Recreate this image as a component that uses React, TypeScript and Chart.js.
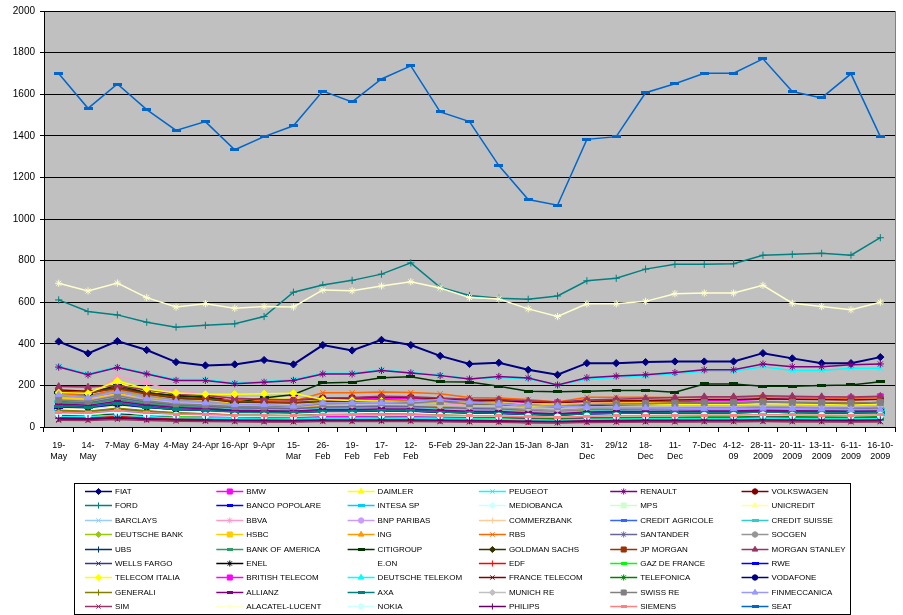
import React, { useEffect, useRef } from 'react';
import { Chart, registerables } from 'chart.js';
import { drawPoint } from 'chart.js/helpers';

Chart.register(...registerables);

const CATEGORIES = [
  '19-\nMay', '14-\nMay', '7-May', '6-May', '4-May', '24-Apr', '16-Apr', '9-Apr', '15-\nMar', '26-\nFeb',
  '19-\nFeb', '17-\nFeb', '12-\nFeb', '5-Feb', '29-Jan', '22-Jan', '15-Jan', '8-Jan', '31-\nDec', '29/12',
  '18-\nDec', '11-\nDec', '7-Dec', '4-12-\n09', '28-11-\n2009', '20-11-\n2009', '13-11-\n2009', '6-11-\n2009', '16-10-\n2009',
];

const Y_TICKS = [0, 200, 400, 600, 800, 1000, 1200, 1400, 1600, 1800, 2000];

const FIAT = [411, 354, 413, 370, 312, 296, 301, 322, 301, 394, 368, 419, 394, 342, 303, 309, 275, 251, 307, 307, 312, 315, 315, 315, 355, 330, 307, 307, 336];
const BMW = [150, 140, 165, 142, 128, 137, 137, 120, 135, 135, 135, 138, 138, 128, 121, 127, 116, 116, 121, 121, 121, 121, 126, 126, 135, 133, 133, 139, 145];
const DAIMLER = [175, 168, 212, 172, 150, 146, 140, 138, 142, 122, 118, 116, 113, 108, 106, 104, 96, 92, 101, 102, 104, 105, 106, 106, 110, 108, 106, 104, 108];
const PEUGEOT = [292, 256, 290, 258, 228, 228, 212, 219, 228, 258, 258, 275, 262, 250, 232, 238, 232, 202, 230, 238, 246, 255, 268, 268, 290, 272, 272, 283, 283];
const RENAULT = [288, 251, 286, 255, 224, 224, 208, 215, 224, 255, 255, 272, 260, 247, 231, 243, 236, 202, 237, 245, 251, 262, 275, 275, 303, 290, 290, 299, 303];
const VOLKSWAGEN = [178, 172, 188, 165, 150, 142, 132, 130, 128, 138, 140, 144, 142, 136, 130, 128, 120, 115, 124, 126, 128, 130, 132, 132, 136, 134, 132, 130, 134];
const FORD = [611, 555, 539, 504, 480, 489, 496, 531, 648, 683, 705, 735, 789, 672, 632, 619, 614, 630, 703, 715, 759, 782, 782, 785, 826, 830, 835, 826, 910];
const BANCO_POPOLARE = [88, 82, 95, 78, 66, 60, 52, 50, 48, 52, 54, 55, 54, 50, 46, 44, 40, 36, 42, 44, 45, 46, 46, 46, 48, 47, 46, 45, 46];
const INTESA_SP = [82, 78, 92, 80, 70, 66, 60, 58, 56, 62, 62, 64, 63, 60, 56, 55, 50, 46, 52, 54, 55, 56, 57, 57, 60, 58, 57, 56, 58];
const MEDIOBANCA = [96, 92, 110, 95, 84, 80, 74, 72, 70, 76, 77, 80, 78, 74, 70, 68, 62, 58, 64, 66, 66, 67, 68, 68, 72, 70, 68, 66, 70];
const MPS = [74, 70, 84, 72, 62, 58, 52, 50, 48, 54, 55, 56, 55, 52, 48, 46, 42, 38, 44, 45, 46, 47, 48, 48, 50, 49, 48, 47, 48];
const UNICREDIT = [92, 88, 104, 88, 76, 72, 64, 62, 60, 66, 67, 70, 68, 64, 60, 58, 52, 48, 54, 56, 57, 58, 59, 59, 62, 60, 58, 57, 60];
const BARCLAYS = [128, 120, 150, 128, 106, 98, 84, 82, 80, 88, 90, 94, 92, 86, 78, 74, 66, 60, 70, 72, 74, 76, 78, 78, 82, 80, 78, 76, 80];
const BBVA = [150, 140, 245, 212, 172, 158, 130, 128, 125, 118, 115, 118, 115, 110, 105, 100, 92, 88, 98, 100, 100, 98, 100, 100, 105, 100, 98, 96, 100];
const BNP_PARIBAS = [138, 132, 158, 136, 120, 114, 104, 102, 100, 108, 110, 114, 112, 106, 100, 98, 90, 86, 94, 96, 98, 100, 101, 101, 105, 103, 101, 99, 102];
const COMMERZBANK = [86, 80, 96, 82, 70, 64, 56, 54, 52, 56, 56, 58, 57, 53, 48, 46, 42, 38, 44, 46, 47, 48, 49, 49, 52, 50, 49, 48, 50];
const CREDIT_AGRICOLE = [104, 98, 118, 100, 88, 84, 76, 74, 72, 78, 79, 82, 80, 76, 72, 70, 64, 60, 66, 68, 69, 70, 71, 71, 74, 72, 71, 70, 72];
const CREDIT_SUISSE = [122, 116, 138, 118, 104, 98, 90, 88, 86, 92, 93, 96, 95, 90, 86, 84, 78, 74, 80, 82, 83, 84, 85, 85, 88, 86, 85, 84, 86];
const DEUTSCHE_BANK = [148, 140, 170, 146, 126, 118, 104, 100, 98, 106, 107, 110, 108, 100, 92, 88, 80, 74, 84, 86, 87, 88, 90, 90, 94, 92, 90, 88, 92];
const HSBC = [140, 136, 160, 140, 128, 124, 118, 116, 115, 120, 120, 122, 121, 118, 116, 115, 112, 110, 114, 115, 116, 116, 117, 117, 120, 118, 117, 116, 118];
const ING = [130, 124, 152, 128, 112, 106, 96, 94, 92, 100, 101, 104, 102, 96, 90, 88, 82, 78, 86, 88, 89, 90, 91, 91, 95, 93, 91, 90, 93];
const RBS = [160, 150, 180, 155, 140, 135, 128, 126, 124, 165, 165, 168, 166, 160, 142, 140, 132, 120, 143, 143, 143, 142, 142, 142, 145, 142, 140, 138, 140];
const SANTANDER = [122, 116, 140, 120, 106, 100, 92, 90, 88, 96, 97, 100, 98, 94, 90, 88, 82, 78, 85, 87, 88, 89, 90, 90, 94, 92, 90, 88, 92];
const SOCGEN = [152, 144, 176, 150, 130, 122, 108, 104, 100, 110, 111, 114, 112, 104, 96, 92, 84, 78, 88, 90, 91, 92, 94, 94, 98, 96, 94, 92, 96];
const UBS = [72, 68, 84, 70, 60, 56, 50, 48, 46, 50, 51, 53, 52, 49, 46, 44, 40, 37, 42, 43, 44, 45, 46, 46, 48, 47, 46, 45, 46];
const BANK_OF_AMERICA = [118, 112, 132, 112, 98, 92, 80, 78, 76, 82, 82, 84, 82, 76, 70, 66, 60, 56, 64, 66, 67, 68, 70, 70, 74, 72, 70, 68, 72];
const CITIGROUP = [165, 160, 200, 165, 150, 145, 117, 140, 156, 212, 215, 237, 242, 218, 216, 196, 172, 169, 172, 175, 175, 167, 207, 207, 196, 196, 199, 202, 218];
const GOLDMAN_SACHS = [170, 162, 190, 160, 140, 134, 120, 118, 115, 122, 124, 128, 126, 120, 112, 108, 100, 96, 104, 106, 108, 110, 112, 112, 116, 114, 112, 110, 114];
const JP_MORGAN = [172, 165, 185, 160, 142, 136, 124, 120, 118, 126, 127, 130, 128, 122, 116, 112, 104, 100, 108, 110, 112, 114, 116, 116, 120, 118, 116, 114, 118];
const MORGAN_STANLEY = [195, 192, 200, 178, 160, 152, 138, 134, 130, 140, 142, 148, 146, 140, 134, 132, 126, 120, 130, 134, 138, 142, 146, 146, 150, 148, 146, 144, 148];
const WELLS_FARGO = [76, 72, 82, 74, 68, 66, 64, 62, 60, 66, 67, 70, 70, 68, 66, 66, 64, 62, 66, 68, 70, 72, 74, 74, 78, 76, 76, 76, 78];
const ENEL = [56, 54, 62, 54, 48, 46, 42, 41, 40, 43, 43, 44, 44, 42, 40, 39, 36, 34, 38, 39, 40, 40, 41, 41, 43, 42, 41, 40, 42];
const EON = [86, 82, 96, 84, 74, 70, 64, 62, 60, 66, 67, 70, 68, 64, 60, 58, 54, 50, 56, 58, 59, 60, 61, 61, 64, 62, 61, 60, 62];
const EDF = [46, 44, 52, 45, 40, 38, 34, 33, 32, 35, 35, 36, 36, 34, 31, 30, 27, 25, 29, 30, 31, 31, 32, 32, 34, 33, 32, 31, 32];
const GAZ_DE_FRANCE = [62, 58, 70, 60, 52, 48, 44, 43, 42, 46, 46, 48, 47, 44, 41, 40, 36, 33, 38, 39, 40, 41, 42, 42, 44, 43, 42, 41, 42];
const RWE = [96, 92, 108, 94, 84, 80, 74, 72, 70, 76, 76, 78, 77, 72, 68, 66, 60, 56, 64, 66, 67, 68, 69, 69, 72, 70, 69, 68, 70];
const TELECOM_ITALIA = [165, 162, 222, 183, 164, 158, 158, 160, 162, 132, 128, 125, 122, 118, 115, 112, 100, 98, 110, 110, 110, 108, 108, 108, 112, 110, 108, 105, 110];
const BRITISH_TELECOM = [64, 62, 72, 62, 56, 54, 50, 49, 48, 52, 52, 54, 53, 50, 48, 47, 44, 42, 46, 47, 48, 48, 49, 49, 51, 50, 49, 48, 50];
const DEUTSCHE_TELEKOM = [52, 50, 58, 50, 45, 43, 40, 39, 38, 41, 41, 42, 42, 40, 38, 37, 34, 32, 36, 37, 38, 38, 39, 39, 41, 40, 39, 38, 40];
const FRANCE_TELECOM = [36, 35, 42, 36, 32, 30, 28, 27, 26, 29, 29, 30, 30, 28, 26, 25, 22, 21, 24, 25, 26, 26, 27, 27, 28, 27, 27, 26, 27];
const TELEFONICA = [76, 72, 86, 74, 64, 60, 54, 53, 52, 56, 56, 58, 57, 54, 50, 48, 44, 41, 47, 48, 49, 50, 51, 51, 54, 52, 51, 50, 52];
const VODAFONE = [100, 96, 112, 96, 84, 80, 74, 72, 70, 76, 76, 78, 77, 72, 68, 66, 62, 58, 64, 66, 67, 68, 69, 69, 72, 70, 69, 68, 70];
const GENERALI = [80, 76, 90, 78, 68, 64, 58, 56, 55, 60, 60, 62, 61, 58, 54, 52, 48, 45, 50, 52, 53, 54, 55, 55, 58, 56, 55, 54, 56];
const ALLIANZ = [110, 104, 124, 106, 94, 88, 80, 78, 76, 84, 84, 87, 86, 80, 76, 74, 68, 64, 72, 74, 75, 76, 77, 77, 80, 78, 77, 76, 78];
const AXA = [100, 95, 114, 96, 84, 80, 72, 70, 68, 76, 76, 79, 78, 72, 68, 66, 60, 56, 64, 66, 67, 68, 69, 69, 72, 70, 69, 68, 70];
const MUNICH_RE = [132, 126, 150, 130, 116, 110, 102, 100, 98, 106, 107, 110, 108, 104, 100, 98, 92, 88, 96, 98, 99, 100, 101, 101, 105, 103, 101, 100, 103];
const SWISS_RE = [130, 124, 150, 126, 110, 106, 98, 96, 98, 112, 114, 118, 117, 122, 112, 110, 104, 100, 108, 110, 112, 114, 116, 116, 120, 118, 116, 114, 118];
const FINMECCANICA = [156, 140, 171, 137, 124, 116, 108, 108, 100, 116, 116, 116, 124, 132, 120, 110, 104, 100, 96, 94, 92, 90, 88, 88, 90, 88, 86, 84, 84];
const SIM = [32, 31, 36, 31, 28, 27, 25, 24, 24, 26, 26, 27, 27, 25, 24, 23, 21, 20, 22, 23, 24, 24, 25, 25, 26, 25, 25, 24, 25];
const ALACATEL_LUCENT = [691, 654, 692, 622, 577, 593, 571, 579, 577, 659, 655, 678, 698, 668, 622, 615, 568, 531, 592, 592, 604, 641, 644, 644, 681, 595, 579, 564, 600];
const NOKIA = [62, 60, 72, 60, 56, 55, 52, 52, 50, 56, 56, 58, 57, 54, 52, 52, 50, 48, 52, 53, 54, 54, 55, 55, 58, 56, 55, 54, 56];
const PHILIPS = [42, 40, 46, 40, 36, 35, 33, 32, 31, 34, 34, 35, 35, 33, 31, 30, 28, 26, 30, 31, 32, 32, 33, 33, 35, 34, 33, 32, 34];
const SIEMENS = [72, 68, 80, 70, 62, 60, 56, 55, 54, 58, 58, 60, 59, 56, 54, 53, 50, 47, 52, 54, 55, 56, 57, 57, 60, 58, 57, 56, 58];
const SEAT = [1700, 1532, 1649, 1526, 1426, 1468, 1333, 1396, 1448, 1615, 1563, 1673, 1736, 1515, 1468, 1257, 1094, 1066, 1383, 1396, 1607, 1650, 1701, 1701, 1770, 1613, 1582, 1698, 1396];

const SERIES_NAMES = [
  'FIAT', 'BMW', 'DAIMLER', 'PEUGEOT', 'RENAULT', 'VOLKSWAGEN',
  'FORD', 'BANCO POPOLARE', 'INTESA SP', 'MEDIOBANCA', 'MPS', 'UNICREDIT',
  'BARCLAYS', 'BBVA', 'BNP PARIBAS', 'COMMERZBANK', 'CREDIT AGRICOLE', 'CREDIT SUISSE',
  'DEUTSCHE BANK', 'HSBC', 'ING', 'RBS', 'SANTANDER', 'SOCGEN',
  'UBS', 'BANK OF AMERICA', 'CITIGROUP', 'GOLDMAN SACHS', 'JP MORGAN', 'MORGAN STANLEY',
  'WELLS FARGO', 'ENEL', 'E.ON', 'EDF', 'GAZ DE FRANCE', 'RWE',
  'TELECOM ITALIA', 'BRITISH TELECOM', 'DEUTSCHE TELEKOM', 'FRANCE TELECOM', 'TELEFONICA', 'VODAFONE',
  'GENERALI', 'ALLIANZ', 'AXA', 'MUNICH RE', 'SWISS RE', 'FINMECCANICA',
  'SIM', 'ALACATEL-LUCENT', 'NOKIA', 'PHILIPS', 'SIEMENS', 'SEAT',
];

const SERIES_VALUES = [
  FIAT, BMW, DAIMLER, PEUGEOT, RENAULT, VOLKSWAGEN,
  FORD, BANCO_POPOLARE, INTESA_SP, MEDIOBANCA, MPS, UNICREDIT,
  BARCLAYS, BBVA, BNP_PARIBAS, COMMERZBANK, CREDIT_AGRICOLE, CREDIT_SUISSE,
  DEUTSCHE_BANK, HSBC, ING, RBS, SANTANDER, SOCGEN,
  UBS, BANK_OF_AMERICA, CITIGROUP, GOLDMAN_SACHS, JP_MORGAN, MORGAN_STANLEY,
  WELLS_FARGO, ENEL, EON, EDF, GAZ_DE_FRANCE, RWE,
  TELECOM_ITALIA, BRITISH_TELECOM, DEUTSCHE_TELEKOM, FRANCE_TELECOM, TELEFONICA, VODAFONE,
  GENERALI, ALLIANZ, AXA, MUNICH_RE, SWISS_RE, FINMECCANICA,
  SIM, ALACATEL_LUCENT, NOKIA, PHILIPS, SIEMENS, SEAT,
];

// Styles (Excel default series palette and marker cycle)
const SERIES_COLORS = [
  '#000080', '#FF00FF', '#FFFF00', '#00FFFF', '#800080', '#800000',
  '#008080', '#0000FF', '#00CCFF', '#CCFFFF', '#CCFFCC', '#FFFF99',
  '#99CCFF', '#FF99CC', '#CC99FF', '#FFCC99', '#3366FF', '#33CCCC',
  '#99CC00', '#FFCC00', '#FF9900', '#FF6600', '#666699', '#969696',
  '#003366', '#339966', '#003300', '#333300', '#993300', '#993366',
  '#333399', '#000000', '#FFFFFF', '#FF0000', '#00FF00', '#0000FF',
  '#FFFF00', '#FF00FF', '#00FFFF', '#800000', '#008000', '#000080',
  '#808000', '#800080', '#008080', '#C0C0C0', '#808080', '#9999FF',
  '#993366', '#FFFFCC', '#CCFFFF', '#660066', '#FF8080', '#0066CC',
];
const MARKER_CYCLE = ['rectRot', 'rect', 'triangle', 'crossRot', 'star', 'circle', 'cross', 'dashShort', 'dashLong'];

function makeDash(color: string, w: number, h: number) {
  const c = document.createElement('canvas');
  c.width = w;
  c.height = h;
  const g = c.getContext('2d')!;
  g.fillStyle = color;
  g.fillRect(0, 0, w, h);
  return c;
}

function markerFor(i: number, color: string, forLegend: boolean): any {
  const m = MARKER_CYCLE[i % MARKER_CYCLE.length];
  if (m === 'dashShort') return makeDash(color, forLegend ? 6 : 7, 3);
  if (m === 'dashLong') return makeDash(color, forLegend ? 7 : 9, 3);
  return m;
}

function radiusFor(i: number) {
  const m = MARKER_CYCLE[i % MARKER_CYCLE.length];
  if (m === 'rect') return 4.2;
  if (m === 'rectRot') return 3.6;
  if (m === 'triangle') return 3.8;
  if (m === 'circle') return 3.2;
  return 3.6;
}

const plotBgPlugin = {
  id: 'plotBg',
  beforeDraw(chart: any) {
    const { ctx, chartArea } = chart;
    ctx.save();
    ctx.fillStyle = '#C0C0C0';
    ctx.fillRect(chartArea.left, chartArea.top, chartArea.right - chartArea.left, chartArea.bottom - chartArea.top);
    ctx.strokeStyle = '#808080';
    ctx.lineWidth = 1;
    ctx.beginPath();
    ctx.moveTo(Math.round(chartArea.right) + 0.5, chartArea.top);
    ctx.lineTo(Math.round(chartArea.right) + 0.5, chartArea.bottom);
    ctx.stroke();
    ctx.restore();
  },
};

const gridLegendPlugin = {
  id: 'gridLegend',
  afterDraw(chart: any) {
    const ctx = chart.ctx;
    ctx.save();
    ctx.strokeStyle = '#000000';
    ctx.lineWidth = 1;
    ctx.strokeRect(74.5, 483.5, 776, 131);
    ctx.font = '8px "Liberation Sans", Arial, sans-serif';
    ctx.textBaseline = 'middle';
    ctx.textAlign = 'left';
    SERIES_NAMES.forEach((name, i) => {
      const row = Math.floor(i / 6);
      const col = i % 6;
      const x0 = 85 + col * 131.3;
      const y = Math.round(491 + row * 14.4) + 0.5;
      const color = SERIES_COLORS[i];
      ctx.strokeStyle = color;
      ctx.fillStyle = color;
      ctx.lineWidth = 1.5;
      ctx.beginPath();
      ctx.moveTo(x0, y);
      ctx.lineTo(x0 + 27, y);
      ctx.stroke();
      ctx.lineWidth = 1;
      drawPoint(ctx, { pointStyle: markerFor(i, color, true), rotation: 0, radius: radiusFor(i) * 0.85, borderWidth: 1 } as any, x0 + 13.5, y);
      ctx.fillStyle = '#000000';
      ctx.fillText(name, x0 + 30, y);
    });
    ctx.restore();
  },
};

export default function App() {
  const canvasRef = useRef<HTMLCanvasElement | null>(null);

  useEffect(() => {
    if (!canvasRef.current) return;
    const n = SERIES_NAMES.length;
    const datasets = SERIES_NAMES.map((name, i) => {
      const color = SERIES_COLORS[i];
      return {
        label: name,
        data: SERIES_VALUES[i],
        borderColor: color,
        backgroundColor: color,
        pointBackgroundColor: color,
        pointBorderColor: color,
        pointBorderWidth: 1,
        pointStyle: markerFor(i, color, false),
        pointRadius: radiusFor(i),
        borderWidth: i === 0 ? 2 : 1.5,
        tension: 0,
        fill: false,
        order: n - i,
      };
    });

    const chart = new Chart(canvasRef.current, {
      type: 'line',
      data: { labels: CATEGORIES, datasets },
      plugins: [plotBgPlugin, gridLegendPlugin],
      options: {
        animation: false,
        responsive: false,
        devicePixelRatio: 1,
        layout: { padding: { left: 0, right: 8, top: 10, bottom: 148 } },
        plugins: {
          legend: { display: false },
          tooltip: { enabled: false },
          title: { display: false },
        },
        scales: {
          x: {
            type: 'category',
            offset: true,
            afterFit: (s: any) => { s.height = 40; },
            grid: {
              offset: true,
              drawOnChartArea: false,
              drawTicks: true,
              tickLength: 5,
              color: '#000000',
            },
            border: { color: '#000000', width: 1 },
            ticks: {
              autoSkip: false,
              maxRotation: 0,
              minRotation: 0,
              padding: 8,
              color: '#000000',
              font: { family: '"Liberation Sans", Arial, sans-serif', size: 9 },
              callback: (_v: any, idx: number) => CATEGORIES[idx].split('\n'),
            },
          },
          y: {
            min: 0,
            max: 2000,
            afterFit: (s: any) => { s.width = 44; },
            afterBuildTicks: (s: any) => { s.ticks = Y_TICKS.map((v) => ({ value: v })); },
            grid: {
              color: '#000000',
              lineWidth: 1,
              drawTicks: true,
              tickLength: 4,
            },
            border: { color: '#000000', width: 1 },
            ticks: {
              padding: 5,
              color: '#000000',
              font: { family: '"Liberation Sans", Arial, sans-serif', size: 10 },
              callback: (v: any) => String(v),
            },
          },
        },
      },
    });
    return () => chart.destroy();
  }, []);

  return (
    <div style={{ position: 'absolute', left: 0, top: 0, width: 903, height: 615, background: '#FFFFFF' }}>
      <canvas ref={canvasRef} width={903} height={615} style={{ display: 'block', width: 903, height: 615 }} />
    </div>
  );
}
